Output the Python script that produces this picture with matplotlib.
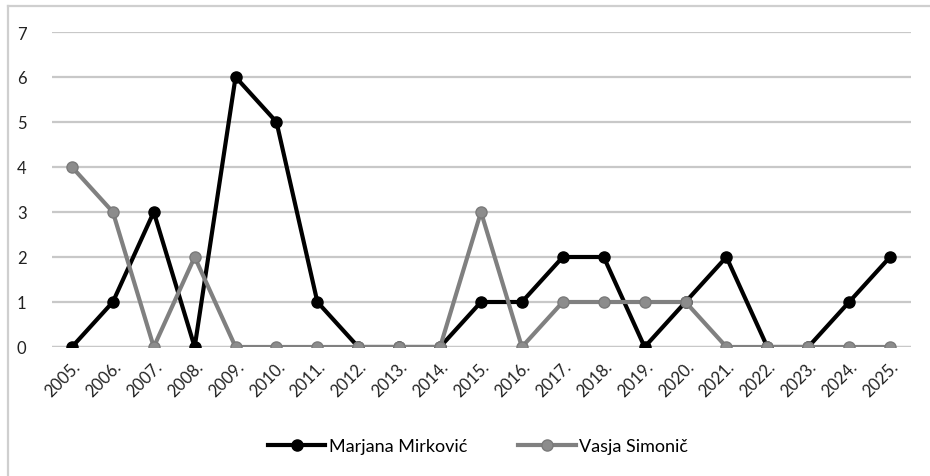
import matplotlib
matplotlib.use("Agg")
import matplotlib.pyplot as plt
from matplotlib.lines import Line2D

years = ["2005.", "2006.", "2007.", "2008.", "2009.", "2010.", "2011.", "2012.", "2013.", "2014.",
         "2015.", "2016.", "2017.", "2018.", "2019.", "2020.", "2021.", "2022.", "2023.", "2024.", "2025."]
marjana = [0, 1, 3, 0, 6, 5, 1, 0, 0, 0, 1, 1, 2, 2, 0, 1, 2, 0, 0, 1, 2]
vasja = [4, 3, 0, 2, 0, 0, 0, 0, 0, 0, 3, 0, 1, 1, 1, 1, 0, 0, 0, 0, 0]
yticks = [0, 1, 2, 3, 4, 5, 6, 7]

plt.rcParams['font.family'] = ['Lato', 'DejaVu Sans']

W, H = 930, 477
fig = plt.figure(figsize=(W / 100, H / 100), dpi=100)
ax = fig.add_axes([51.5 / W, 1 - 348 / H, (910.5 - 51.5) / W, (348 - 33) / H])

x = list(range(len(years)))
ax.plot(x, marjana, color='black', lw=3, marker='o', ms=8, mfc='black', mec='black',
        label='Marjana Mirković', zorder=3)
ax.plot(x, vasja, color='#808080', lw=3, marker='o', ms=8, mfc='#8c8c8c', mec='#7a7a7a',
        label='Vasja Simonič', zorder=4)

ax.set_xlim(-0.5, len(years) - 0.5)
ax.set_ylim(0, 7)
ax.set_yticks(yticks)
ax.set_yticklabels([str(v) for v in yticks], fontsize=12, color='#222222')
ax.set_xticks(x)
ax.set_xticklabels(years, rotation=45, ha='right', rotation_mode='anchor', fontsize=12, color='#222222')
ax.tick_params(axis='both', length=0)
ax.tick_params(axis='y', pad=18)
ax.tick_params(axis='x', pad=8)
ax.grid(axis='y', color='#c8c8c8', lw=1.6)
ax.set_axisbelow(True)
for s in ax.spines.values():
    s.set_visible(False)
ax.axhline(0, color='#c8c8c8', lw=1.6, zorder=1)

leg = fig.legend(loc='center', bbox_to_anchor=(478 / W, 1 - 447 / H), ncol=2, frameon=False,
                 fontsize=13, handlelength=3.2, columnspacing=2.8, handletextpad=0.2)

# outer frame (left and top)
fig.add_artist(Line2D([8 / W, 8 / W], [0, 1 - 7 / H], transform=fig.transFigure, color='#cfcfcf', lw=1.6))
fig.add_artist(Line2D([8 / W, 1], [1 - 7 / H, 1 - 7 / H], transform=fig.transFigure, color='#cfcfcf', lw=1.6))

fig.savefig('out.png', dpi=100)
